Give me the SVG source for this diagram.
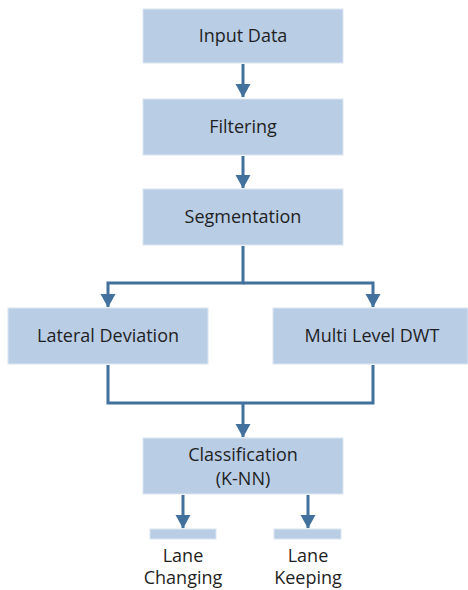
<svg xmlns="http://www.w3.org/2000/svg" width="468" height="590" viewBox="0 0 468 590">
<style>
.box{fill:#b9cde5;stroke:#dbe5f1;stroke-width:1}
.t{font-family:"Open Sans","Liberation Sans",sans-serif;font-size:18px;fill:#1f1f1f;text-anchor:middle}
.c{fill:none;stroke:#41719c;stroke-width:3}
.h{fill:#41719c}
</style>
<defs>
<marker id="ah" markerUnits="userSpaceOnUse" markerWidth="16" markerHeight="14" refX="8" refY="13" orient="0" viewBox="0 0 16 14">
<path d="M0.5,0 L15.5,0 L8,13.5 Z" class="h"/>
</marker>
</defs>
<rect width="468" height="590" fill="#ffffff"/>
<g id="input"><rect class="box" x="143" y="9" width="200" height="54"/><text class="t" x="243" y="42">Input Data</text></g>
<g id="filtering"><rect class="box" x="143" y="99" width="200" height="56"/><text class="t" x="243" y="133">Filtering</text></g>
<g id="segmentation"><rect class="box" x="143" y="189" width="200" height="56"/><text class="t" x="243" y="223">Segmentation</text></g>
<g id="lateral"><rect class="box" x="8" y="308" width="200" height="56"/><text class="t" x="108" y="342">Lateral Deviation</text></g>
<g id="dwt"><rect class="box" x="273" y="308" width="195" height="56"/><text class="t" x="372" y="342">Multi Level DWT</text></g>
<g id="classification"><rect class="box" x="143" y="438" width="200" height="56"/><text class="t" x="243" y="461">Classification</text><text class="t" x="243" y="485">(K-NN)</text></g>
<g id="changing"><rect class="box" x="150" y="529" width="66" height="10"/><text class="t" x="183" y="562">Lane</text><text class="t" x="183" y="584">Changing</text></g>
<g id="keeping"><rect class="box" x="274" y="529" width="67" height="10"/><text class="t" x="308" y="562">Lane</text><text class="t" x="308" y="584">Keeping</text></g>
<g id="connectors">
<path class="c" d="M243,64 V97" marker-end="url(#ah)"/>
<path class="c" d="M243,156 V188" marker-end="url(#ah)"/>
<path class="c" d="M243,246 V283 H108 V307" marker-end="url(#ah)"/>
<path class="c" d="M243,283 H373 V307" marker-end="url(#ah)"/>
<path class="c" d="M108,365 V403 H373 V365"/>
<path class="c" d="M243,403 V437" marker-end="url(#ah)"/>
<path class="c" d="M183,495 V528" marker-end="url(#ah)"/>
<path class="c" d="M308,495 V528" marker-end="url(#ah)"/>
</g>
</svg>
